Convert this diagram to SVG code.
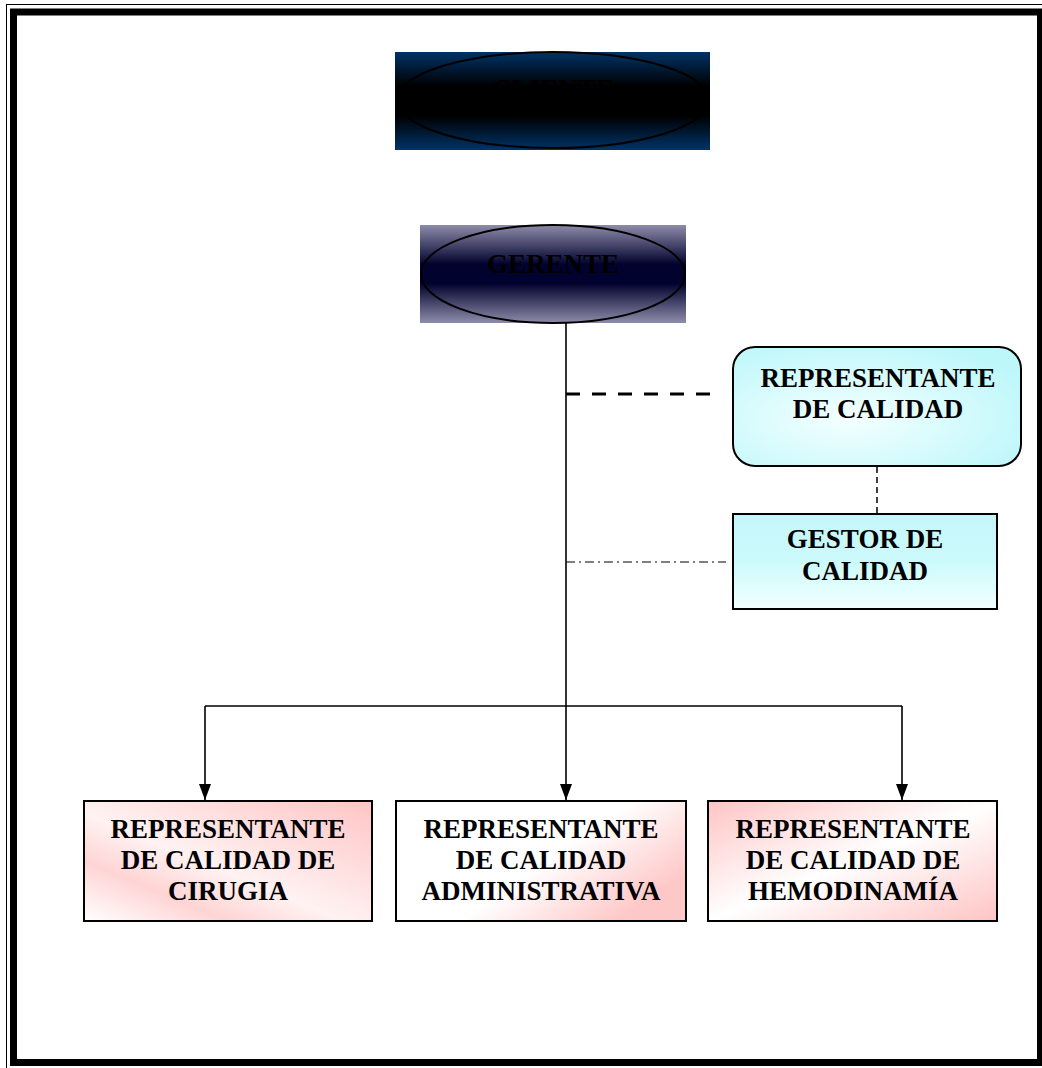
<svg xmlns="http://www.w3.org/2000/svg" width="1042" height="1068" viewBox="0 0 1042 1068">
<defs>
<style>
text{font-family:"Liberation Serif","Times New Roman",serif;font-weight:bold;font-size:27px;fill:#000;text-anchor:middle}
.box{stroke:#000;stroke-width:2}
.conn{stroke:#000;stroke-width:1.6;fill:none}
</style>
<linearGradient id="gCliente" x1="0" y1="0" x2="0" y2="1">
<stop offset="0" stop-color="#003366"/>
<stop offset="0.35" stop-color="#000000"/>
<stop offset="0.65" stop-color="#000000"/>
<stop offset="1" stop-color="#003366"/>
</linearGradient>
<linearGradient id="gGerente" x1="0" y1="0" x2="0" y2="1">
<stop offset="0" stop-color="#8E8CAA"/>
<stop offset="0.4" stop-color="#02022E"/>
<stop offset="0.6" stop-color="#02022E"/>
<stop offset="1" stop-color="#8E8CAA"/>
</linearGradient>
<radialGradient id="gCyan" cx="0.4" cy="0.6" r="0.7">
<stop offset="0" stop-color="#F4FFFF"/>
<stop offset="1" stop-color="#BDF7FA"/>
</radialGradient>
<linearGradient id="gCyan2" x1="0" y1="0" x2="0" y2="1">
<stop offset="0" stop-color="#C4F6F9"/>
<stop offset="0.5" stop-color="#CCFAFC"/>
<stop offset="1" stop-color="#F2FFFF"/>
</linearGradient>
<linearGradient id="gPink1" x1="1" y1="0" x2="0" y2="1">
<stop offset="0" stop-color="#FFC4C4"/>
<stop offset="0.55" stop-color="#FFF2F2"/>
<stop offset="0.75" stop-color="#FFD4D4"/>
<stop offset="1" stop-color="#FFFFFF"/>
</linearGradient>
<linearGradient id="gPink2" x1="0" y1="0" x2="1" y2="0.6">
<stop offset="0" stop-color="#FFFFFF"/>
<stop offset="0.6" stop-color="#FFFFFF"/>
<stop offset="1" stop-color="#FFC8C8"/>
</linearGradient>
<linearGradient id="gPink3" x1="0" y1="0" x2="1" y2="1">
<stop offset="0" stop-color="#FFC4C4"/>
<stop offset="0.5" stop-color="#FFFFFF"/>
<stop offset="1" stop-color="#FFC4C4"/>
</linearGradient>
<marker id="arr" viewBox="0 0 16 12" refX="16" refY="6" markerWidth="16" markerHeight="12" markerUnits="userSpaceOnUse" orient="auto">
<path d="M0,0 L16,6 L0,12 Z" fill="#000"/>
</marker>
</defs>
<rect width="1042" height="1068" fill="#fff"/>
<g id="frame">
<rect x="6.5" y="4.5" width="1040" height="1065" fill="none" stroke="#000" stroke-width="1"/>
<rect x="13.5" y="12" width="1027" height="1050.5" fill="none" stroke="#000" stroke-width="7"/>
</g>
<g id="connectors">
<line class="conn" x1="566" y1="323" x2="566" y2="800" marker-end="url(#arr)"/>
<line class="conn" x1="205" y1="706" x2="902" y2="706"/>
<line class="conn" x1="205" y1="706" x2="205" y2="800" marker-end="url(#arr)"/>
<line class="conn" x1="902" y1="706" x2="902" y2="800" marker-end="url(#arr)"/>
<line x1="566" y1="394" x2="722" y2="394" stroke="#000" stroke-width="3" stroke-dasharray="14,12"/>
<line x1="877" y1="467" x2="877" y2="513" stroke="#000" stroke-width="1.5" stroke-dasharray="6,4"/>
<line x1="566" y1="562" x2="726" y2="562" stroke="#000" stroke-width="1" stroke-dasharray="9,4,2,4"/>
</g>
<g id="cliente">
<rect x="395" y="52" width="315" height="98" fill="url(#gCliente)"/>
<ellipse cx="553" cy="100" rx="156" ry="48" fill="none" stroke="#000" stroke-width="2"/>
<text x="553" y="98">CLIENTE</text>
</g>
<g id="gerente">
<rect x="420" y="225" width="266" height="98" fill="url(#gGerente)"/>
<ellipse cx="553" cy="274" rx="132" ry="49" fill="none" stroke="#000" stroke-width="2"/>
<text x="553" y="273">GERENTE</text>
</g>
<g id="representante-calidad">
<rect class="box" x="733" y="347" width="288" height="119" rx="22" fill="url(#gCyan)"/>
<text x="878" y="387">REPRESENTANTE</text>
<text x="878" y="418">DE CALIDAD</text>
</g>
<g id="gestor-calidad">
<rect class="box" x="733" y="514" width="264" height="95" fill="url(#gCyan2)"/>
<text x="865" y="548">GESTOR DE</text>
<text x="865" y="580">CALIDAD</text>
</g>
<g id="rep-cirugia">
<rect class="box" x="84" y="801" width="288" height="120" fill="url(#gPink1)"/>
<text x="228" y="838">REPRESENTANTE</text>
<text x="228" y="869">DE CALIDAD DE</text>
<text x="228" y="900">CIRUGIA</text>
</g>
<g id="rep-administrativa">
<rect class="box" x="396" y="801" width="290" height="120" fill="url(#gPink2)"/>
<text x="541" y="838">REPRESENTANTE</text>
<text x="541" y="869">DE CALIDAD</text>
<text x="541" y="900">ADMINISTRATIVA</text>
</g>
<g id="rep-hemodinamia">
<rect class="box" x="708" y="801" width="289" height="120" fill="url(#gPink3)"/>
<text x="853" y="838">REPRESENTANTE</text>
<text x="853" y="869">DE CALIDAD DE</text>
<text x="853" y="900">HEMODINAMÍA</text>
</g>
</svg>
